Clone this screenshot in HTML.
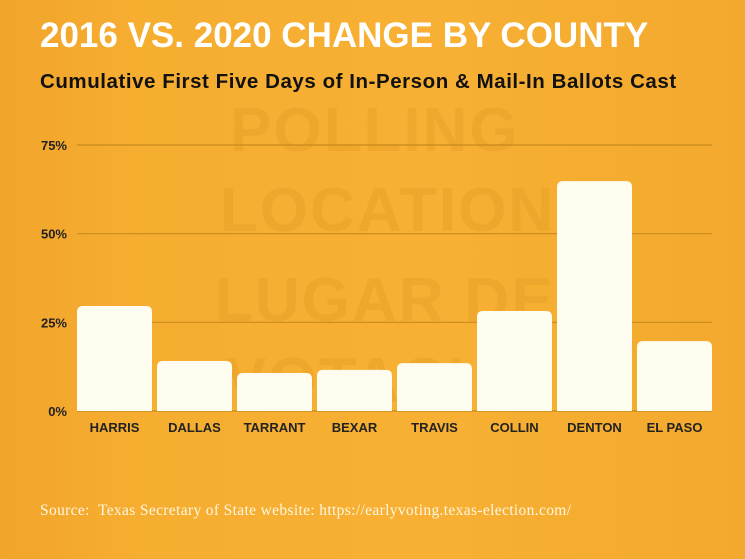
<!DOCTYPE html>
<html><head><meta charset="utf-8"><style>
body{margin:0;width:745px;height:559px;overflow:hidden;background:#f5ab2e;font-family:"Liberation Sans",sans-serif;}
#wrap{position:relative;width:745px;height:559px;background:linear-gradient(90deg,#f1a52a 0%,#f6ae31 20%,#f7b033 60%,#f3a92d 100%);}
.ghost{position:absolute;font-weight:bold;color:rgba(200,130,20,0.16);font-size:62px;letter-spacing:2px}
</style></head><body>
<div id="wrap">
<div class="ghost" style="left:230px;top:95px">POLLING</div>
<div class="ghost" style="left:220px;top:175px">LOCATION</div>
<div class="ghost" style="left:215px;top:265px">LUGAR DE</div>
<div class="ghost" style="left:225px;top:345px">VOTACI</div>
<div style="position:absolute;left:40px;top:16px;color:#fff;font-weight:bold;font-size:35px;letter-spacing:0px">2016 VS. 2020 CHANGE BY COUNTY</div>
<div style="position:absolute;left:40px;top:70px;color:#111;font-weight:bold;font-size:20.5px;letter-spacing:0.55px">Cumulative First Five Days of In-Person &amp; Mail-In Ballots Cast</div>
<svg id="chart" width="745" height="559" style="position:absolute;left:0;top:0"></svg>
<div style="position:absolute;left:40px;top:502px;color:#fff6e0;font-family:'Liberation Serif',serif;font-size:15.5px;letter-spacing:0.35px">Source:&nbsp; Texas Secretary of State website: https://earlyvoting.texas-election.com/</div>
</div>
<script>
const categories=["HARRIS","DALLAS","TARRANT","BEXAR","TRAVIS","COLLIN","DENTON","EL PASO"];
const values=[29.6,14.1,10.7,11.6,13.5,28.2,64.8,19.7];
const ticks=[0,25,50,75];
const tickLabels=["0%","25%","50%","75%"];
const NS="http://www.w3.org/2000/svg";
const svg=document.getElementById('chart');
const x0=77,x1=717,y0=411,yTop=145,vmax=75;
const y=v=>y0-(v/vmax)*(y0-yTop);
const step=(x1-x0)/categories.length;
const bw=step-5;
function el(t,a){const e=document.createElementNS(NS,t);for(const k in a)e.setAttribute(k,a[k]);svg.appendChild(e);return e;}
ticks.forEach((t,i)=>{
 const l=el('line',{x1:x0,x2:712,y1:y(t),y2:y(t),stroke:'#c88a1e','stroke-width':1.2});
 
 
 const tx=el('text',{x:67,y:y(t)+5,'text-anchor':'end','font-size':13,'font-weight':'bold',fill:'#222','font-family':'Liberation Sans, sans-serif'});
 tx.textContent=tickLabels[i];
 
 
});
categories.forEach((c,i)=>{
 const bx=x0+i*step, top=y(values[i]), r=6;
 const p=el('path',{d:`M${bx},${y0}V${top+r}Q${bx},${top} ${bx+r},${top}H${bx+bw-r}Q${bx+bw},${top} ${bx+bw},${top+r}V${y0}Z`,fill:'#fffdf0'});
 
 
 const tx=el('text',{x:bx+bw/2,y:432,'text-anchor':'middle','font-size':13,'font-weight':'bold',fill:'#222','font-family':'Liberation Sans, sans-serif'});
 tx.textContent=c;
 
 
});
</script>
</body></html>
